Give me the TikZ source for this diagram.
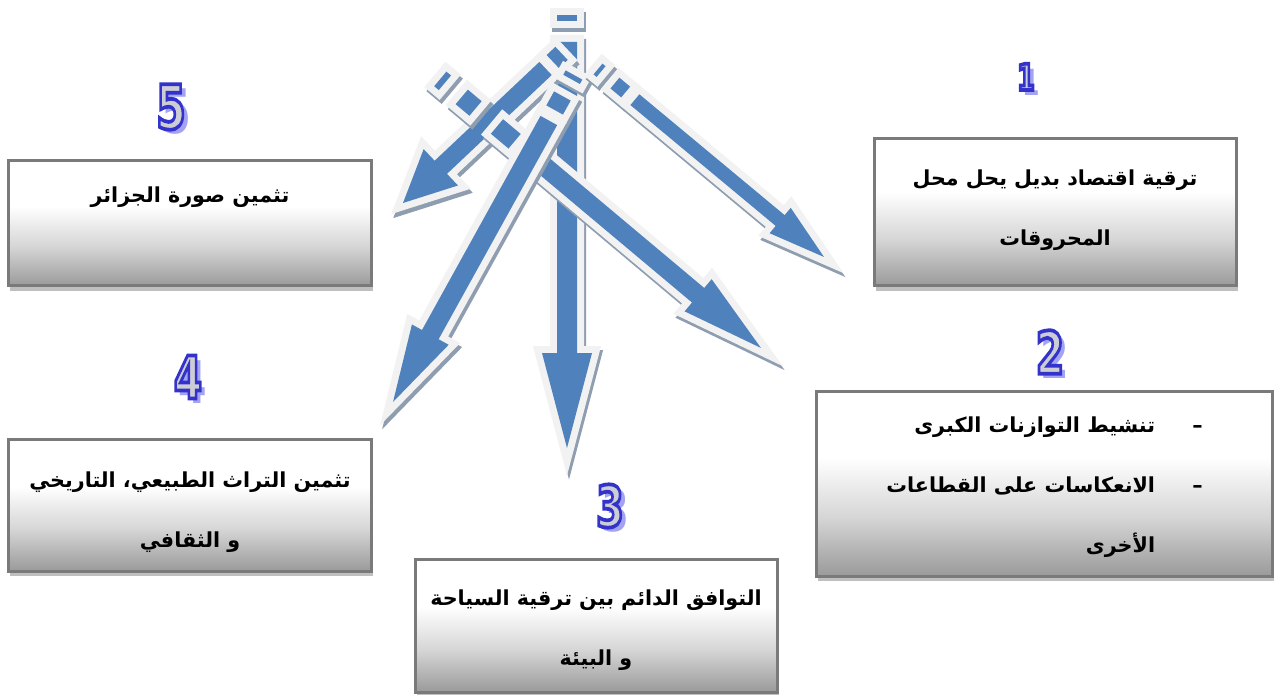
\documentclass[tikz,border=0pt]{standalone}
\usepackage{fontspec}
\usepackage{graphicx}
\usetikzlibrary{shadows}
\TeXXeTstate=1
\newfontfamily\arabicfont[Script=Arabic]{DejaVu Sans}
\newfontfamily\numfont{DejaVu Sans}
\definecolor{arblue}{HTML}{4F81BD}
\definecolor{arlight}{HTML}{F2F2F2}
\definecolor{arshade}{HTML}{8F9DB1}
\definecolor{boxedge}{HTML}{7A7A7A}
\definecolor{boxshade}{HTML}{BFBFBF}
\definecolor{boxmid}{HTML}{D6D6D6}
\definecolor{boxbot}{HTML}{9A9A9A}
\definecolor{numfill}{HTML}{CDCDD6}
\definecolor{numshadow}{HTML}{A3A3F2}
\pgfdeclareverticalshading{panelshade}{100bp}{color(0bp)=(boxbot); color(25bp)=(boxbot); color(41bp)=(boxmid); color(57bp)=(white); color(75bp)=(white); color(100bp)=(white)}
\def\pxu{0.75}
\tikzset{
  panel/.style={rectangle, draw=boxedge, line width=2.25pt, shade, shading=panelshade, inner sep=0pt,
    drop shadow={shadow xshift=1.5pt, shadow yshift=-3.75pt, fill=boxshade, opacity=1}},
  artext/.style={font=\arabicfont\bfseries\fontsize{15.5}{45}\selectfont, inner sep=0pt},
  arshadowpart/.style={fill=arshade, draw=arshade, line width=10.5pt, line join=miter},
  aroutlinepart/.style={fill=arlight, draw=arlight, line width=10.5pt, line join=miter},
  arfillpart/.style={fill=arblue},
  numtext/.style={font=\numfont\bfseries\fontsize{#1}{#1}\selectfont, inner sep=0pt},
}
% one layer of a fat arrow, drawn along the local x axis
\newcommand\arrowbody[6]{%
  \foreach \pa/\pb in {#5}{%
    \path[#1] ({\pa*\pxu pt},{-#2*\pxu pt}) -- ({\pb*\pxu pt},{-#2*\pxu pt})
      -- ({\pb*\pxu pt},{#2*\pxu pt}) -- ({\pa*\pxu pt},{#2*\pxu pt}) -- cycle;}%
  \path[#1] ({#6*\pxu pt},{-#2*\pxu pt}) -- ({\arlen pt-#4*\pxu pt},{-#2*\pxu pt})
    -- ({\arlen pt-#4*\pxu pt},{-#3*\pxu pt}) -- (\arlen pt,0pt)
    -- ({\arlen pt-#4*\pxu pt},{#3*\pxu pt}) -- ({\arlen pt-#4*\pxu pt},{#2*\pxu pt})
    -- ({#6*\pxu pt},{#2*\pxu pt}) -- cycle;
}
% #1 start, #2 tip, #3 shaft half width, #4 head half width, #5 head length, #6 dashes, #7 solid start
\newcommand\fatarrow[7]{%
  \pgfpointdiff{\pgfpointanchor{#1}{center}}{\pgfpointanchor{#2}{center}}%
  \pgfgetlastxy{\ardx}{\ardy}%
  \pgfmathsetmacro\arang{atan2(\ardy,\ardx)}%
  \pgfmathsetmacro\arlen{veclen(\ardx,\ardy)}%
  \pgfpointanchor{#1}{center}%
  \pgfgetlastxy{\arsx}{\arsy}%
  \begin{scope}[shift={({\arsx+1.5pt},{\arsy-3pt})}, rotate=\arang]
    \arrowbody{arshadowpart}{#3}{#4}{#5}{#6}{#7}
  \end{scope}
  \begin{scope}[shift={(\arsx,\arsy)}, rotate=\arang]
    \arrowbody{aroutlinepart}{#3}{#4}{#5}{#6}{#7}
    \arrowbody{arfillpart}{#3}{#4}{#5}{#6}{#7}
  \end{scope}
}
% outlined glyphs: fill with the text colour, stroke in blue
\newcommand\outlined[1]{\special{pdf:literal direct 2 Tr 2.8 w 0.20 0.20 0.80 RG}#1\special{pdf:literal direct 0 Tr}}
% #1 name, #2 x,y, #3 digit, #4 size
\newcommand\wordnum[4]{%
  \node[numtext=#4, text=numshadow] at ([shift={(5,5)}]#2) {\scalebox{0.7}[1]{#3}};
  \node[numtext=#4, text=numfill] (#1) at (#2) {\scalebox{0.7}[1]{\outlined{#3}}};
}
\begin{document}
\begin{tikzpicture}[x=0.75pt,y=-0.75pt]
\fill[white] (0,0) rectangle (1274,695);
\useasboundingbox (0,0) rectangle (1274,695);

% boxes
\node[panel, minimum width=271.5pt, minimum height=110.25pt] (b1) at (1055,212.5) {};
\node[panel, minimum width=342pt, minimum height=138.75pt] (b2) at (1044,483.5) {};
\node[panel, minimum width=271.5pt, minimum height=99.75pt] (b3) at (596,625.5) {};
\node[panel, minimum width=272.25pt, minimum height=99pt] (b4) at (189.5,505) {};
\node[panel, minimum width=272.25pt, minimum height=93.75pt] (b5) at (189.5,223.5) {};

% arrow ends
\coordinate (s1) at (598,69);  \coordinate (e1) at (824,257);
\coordinate (s2) at (438,77);  \coordinate (e2) at (761,348);
\coordinate (s3) at (567,12);  \coordinate (e3) at (567,448);
\coordinate (s4) at (574,75);  \coordinate (e4) at (393,402);
\coordinate (s5) at (563,52);  \coordinate (e5) at (403,203);

\fatarrow{s3}{e3}{10}{25}{95}{3/9}{30}
\fatarrow{s5}{e5}{9}{25}{52}{2/14}{24}
\fatarrow{s2}{e2}{9.5}{21}{82}{3/9,31/49,77/100}{120}
\fatarrow{s4}{e4}{9.5}{21}{77}{0/5,24/40}{52}
\fatarrow{s1}{e1}{7}{16.5}{57}{0/4,22/36}{48}

% numbers
\wordnum{n1}{1026,77}{1}{27}
\wordnum{n2}{1050,352}{2}{44}
\wordnum{n3}{610,506}{3}{43}
\wordnum{n4}{188,377}{4}{44}
\wordnum{n5}{171,107}{5}{46}

% texts
\node[artext, align=center] (t1) at (1055,210) {\beginR ترقية اقتصاد بديل يحل محل\endR\\\beginR المحروقات\endR};
\node[artext, align=right, anchor=east] (t2) at (1203,487) {\beginR–\hspace{28pt}تنشيط التوازنات الكبرى\endR\\\beginR–\hspace{28pt}الانعكاسات على القطاعات\endR\\\beginR\phantom{–}\hspace{28pt}الأخرى\endR};
\node[artext, align=center] (t3) at (596,630) {\beginR التوافق الدائم بين ترقية السياحة\endR\\\beginR و البيئة\endR};
\node[artext, align=center] (t4) at (190,512) {\beginR تثمين التراث الطبيعي، التاريخي\endR\\\beginR و الثقافي\endR};
\node[artext, align=center] (t5) at (190,197) {\beginR تثمين صورة الجزائر\endR};
\end{tikzpicture}
\end{document}
